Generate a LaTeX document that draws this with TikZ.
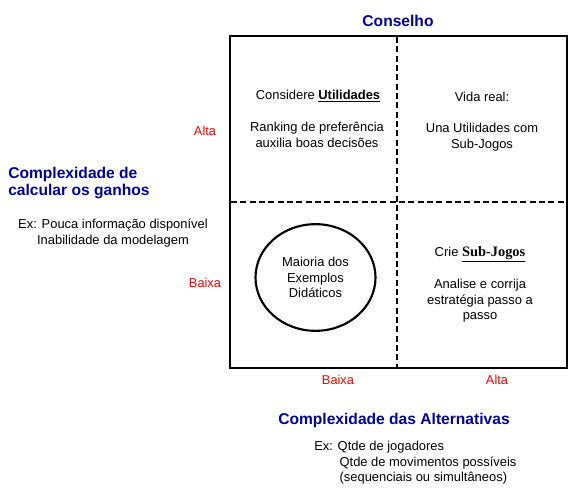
\documentclass[tikz,border=0pt]{standalone}
\usepackage{fontspec}
\setmainfont{Liberation Sans}
\newfontfamily\timesfont{Liberation Serif}
\usetikzlibrary{shapes.geometric}
\definecolor{titleblue}{RGB}{0,0,153}
\definecolor{levelred}{RGB}{255,0,0}
\tikzset{
  title/.style={text=titleblue, font=\fontsize{11.7}{12.2}\selectfont\bfseries, align=left, inner sep=0pt},
  level/.style={text=levelred, font=\fontsize{9.6}{11}\selectfont, inner sep=0pt},
  body/.style={font=\fontsize{9.7}{11.6}\selectfont, align=center, inner sep=0pt},
  frame/.style={line width=2.2pt},
  divider/.style={line width=1.5pt, dash pattern=on 4.5pt off 2.5pt}
}
\begin{document}
\begin{tikzpicture}[x=0.75pt,y=-0.75pt]
      \useasboundingbox (0,0) rectangle (578,500);

      % Frame and dividers
      \draw[frame] (230,36) rectangle (567,368);
      \coordinate (top) at (397,37);
      \coordinate (bottom) at (397,367);
      \coordinate (left) at (231,202);
      \coordinate (right) at (566,202);
      \draw[divider] (top) -- (bottom);
      \draw[divider] (left) -- (right);

      % Titles
      \node[title] (conselho) at (398,21) {Conselho};
      \node[title, anchor=west] (ganhos) at (8,183) {Complexidade de\\calcular os ganhos};
      \node[title] (alternativas) at (394,420) {Complexidade das Alternativas};

      % Levels
      \node[level] (altaY) at (205,131) {Alta};
      \node[level] (baixaY) at (205,283) {Baixa};
      \node[level] (baixaX) at (338,380) {Baixa};
      \node[level] (altaX) at (497,380) {Alta};

      % Examples
      \node[body] (exganhos) at (113,233) {Ex: Pouca informação disponível\\Inabilidade da modelagem};
      \node[body, align=left, anchor=north west] (exalt) at (314,441)
        {Ex: Qtde de jogadores\\
         \hspace*{19pt}Qtde de movimentos possíveis\\
         \hspace*{19pt}(sequenciais ou simultâneos)};

      % Quadrant: alta / baixa
      \node[body] (considere) at (318,96) {Considere \underline{\textbf{Utilidades}}};
      \node[body] (ranking) at (317,135) {Ranking de preferência\\auxilia boas decisões};

      % Quadrant: alta / alta
      \node[body] (vida) at (482,97) {Vida real:};
      \node[body] (una) at (482,137) {Una Utilidades com\\Sub-Jogos};

      % Quadrant: baixa / baixa
      \node[body, draw, line width=1.6pt, ellipse, minimum width=90pt, minimum height=80pt] (maioria) at (315.5,277.5)
        {Maioria dos\\Exemplos\\Didáticos};

      % Quadrant: baixa / alta
      \node[body] (crie) at (480,254) {Crie \underline{\timesfont\fontsize{10.8}{12}\selectfont\bfseries Sub-Jogos}};
      \node[body] (analise) at (480,301) {Analise e corrija\\estratégia passo a\\passo};
    \end{tikzpicture}
\end{document}
